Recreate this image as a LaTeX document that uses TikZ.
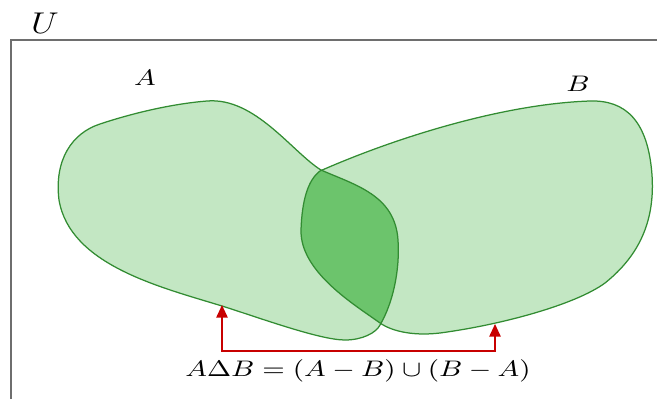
\documentclass[tikz,border=0pt]{standalone}
\usepackage{graphicx}
\usetikzlibrary{arrows.meta}
\definecolor{lightg}{RGB}{195,231,195}
\definecolor{darkg}{RGB}{108,196,108}
\definecolor{lineg}{RGB}{50,140,50}
\definecolor{frameg}{RGB}{110,110,110}
\definecolor{arrred}{RGB}{200,0,0}
\tikzset{
  frameline/.style={draw=frameg, line width=0.9pt},
  setline/.style={draw=lineg, line width=0.5pt, line join=round},
  redarrow/.style={draw=arrred, line width=0.6pt, {Triangle[length=5pt,width=4.5pt]}-{Triangle[length=5pt,width=4.5pt]}},
  lbl/.style={inner sep=0pt}
}
\begin{document}
\begin{tikzpicture}[x=0.4pt,y=-0.4pt]
\useasboundingbox (0,0) rectangle (657,399);
\def\pathA{(321,170) .. controls (355,185) and (395,195) .. (398,240)
  .. controls (400,270) and (393,303) .. (380,325)
  .. controls (376,333) and (362,340) .. (345,340)
  .. controls (320,340) and (260,318) .. (222,306)
  .. controls (160,287) and (70,265) .. (59,200)
  .. controls (54,160) and (72,133) .. (100,124)
  .. controls (130,114) and (170,104) .. (207,101)
  .. controls (255,97) and (292,152) .. (321,170) -- cycle}
\def\pathB{(320,171) .. controls (390,140) and (500,104) .. (590,101)
  .. controls (625,100) and (648,120) .. (652,175)
  .. controls (655,220) and (640,255) .. (605,283)
  .. controls (575,305) and (500,325) .. (440,333)
  .. controls (415,336) and (393,332) .. (380,323)
  .. controls (355,305) and (300,272) .. (301,230)
  .. controls (302,200) and (308,180) .. (320,171) -- cycle}
% frame
\draw[frameline] (11,399) -- (11,40) -- (657,40);
% sets
\fill[lightg] \pathA;
\fill[lightg] \pathB;
\begin{scope}
  \clip \pathA;
  \fill[darkg] \pathB;
\end{scope}
\draw[setline] \pathA;
\draw[setline] \pathB;
% labels
\node[lbl] (U) at (45,23) {\scalebox{1.2}[1]{\large$U$}};
\node[lbl] (A) at (145,78) {\scalebox{1.25}[1]{\small$A$}};
\node[lbl] (B) at (578,84) {\scalebox{1.25}[1]{\small$B$}};
\node[lbl] (F) at (358,371) {\scalebox{1.25}[1]{\small$A\Delta B=(A-B)\cup(B-A)$}};
% arrows
\coordinate (pa) at (222,305);
\coordinate (c1) at (222,351);
\coordinate (pb) at (495,324);
\draw[redarrow] (pa) -- (c1) -| (pb);
\end{tikzpicture}
\end{document}
